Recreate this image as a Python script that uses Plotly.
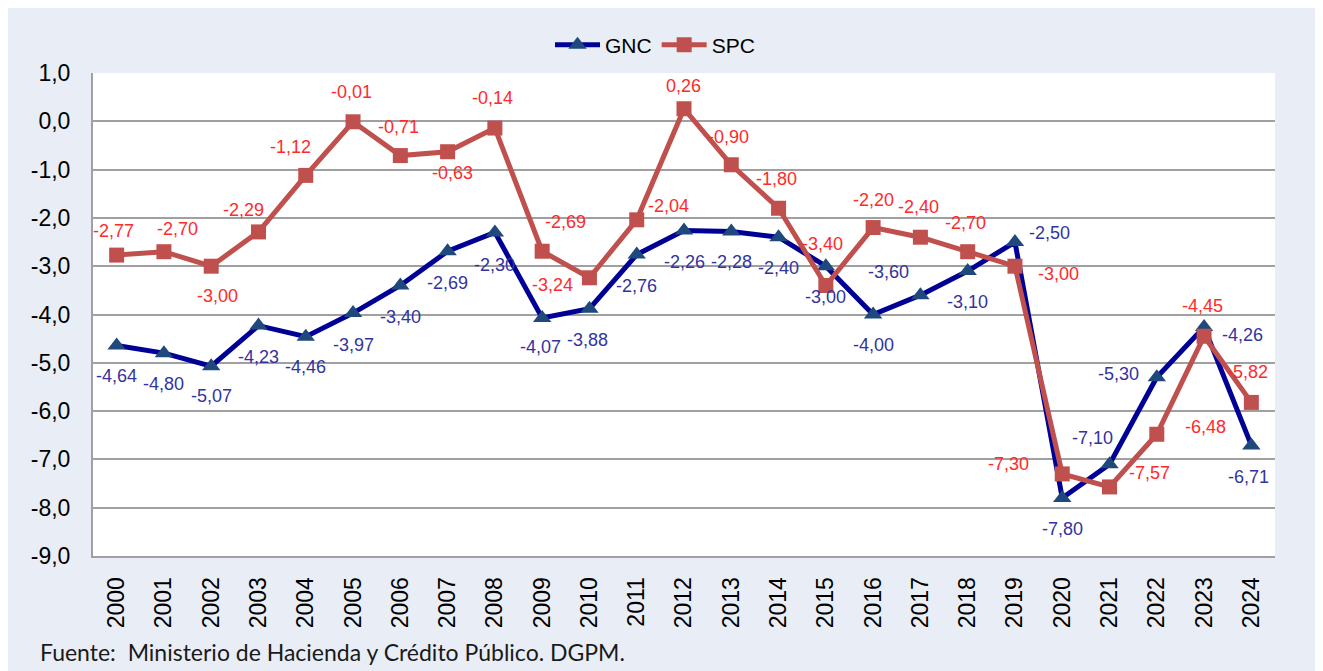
import plotly.graph_objects as go

years = [str(y) for y in range(2000, 2025)]
gnc = [-4.64, -4.80, -5.07, -4.23, -4.46, -3.97, -3.40, -2.69, -2.30, -4.07, -3.88, -2.76,
       -2.26, -2.28, -2.40, -3.00, -4.00, -3.60, -3.10, -2.50, -7.80, -7.10, -5.30, -4.26, -6.71]
spc = [-2.77, -2.70, -3.00, -2.29, -1.12, -0.01, -0.71, -0.63, -0.14, -2.69, -3.24, -2.04,
       0.26, -0.90, -1.80, -3.40, -2.20, -2.40, -2.70, -3.00, -7.30, -7.57, -6.48, -4.45, -5.82]
y_ticks = [1, 0, -1, -2, -3, -4, -5, -6, -7, -8, -9]
y_tick_labels = ["1,0", "0,0", "-1,0", "-2,0", "-3,0", "-4,0", "-5,0", "-6,0", "-7,0", "-8,0", "-9,0"]

# label offsets in pixels (dx, dy with dy positive = downward)
gnc_off = [(0, 31), (0, 31), (0, 30), (0, 31), (0, 30), (0, 32), (0, 31), (0, 32), (0, 33),
           (-2, 29), (-2, 31), (0, 31), (0, 32), (0, 31), (0, 31), (0, 31), (0, 30), (-32, -23),
           (0, 31), (35, -9), (0, 31), (-17, -26), (-38, -3), (38, 8), (-3, 32)]
spc_off = [(-3, -24), (14, -23), (6, 30), (-15, -22), (-15, -28), (-2, -30), (-2, -29), (5, 21),
           (-2, -30), (23, -29), (-37, 7), (32, -14), (-1, -23), (-3, -28), (-2, -29), (-3, -42),
           (0, -28), (-2, -30), (-2, -29), (44, 8), (-54, -10), (40, -14), (49, -7), (-2, -30),
           (-4, -30)]

GNC_LINE = "#000096"
GNC_MARK = "#1F497D"
GNC_TEXT = "#3333A0"
SPC_LINE = "#C0504D"
SPC_TEXT = "#FF2A2A"
BG = "#E9EEF6"

fig = go.Figure()
fig.add_trace(go.Scatter(
    x=years, y=gnc, name="GNC", mode="lines+markers",
    line=dict(color=GNC_LINE, width=5),
    marker=dict(symbol="triangle-up", size=16, color=GNC_MARK),
))
fig.add_trace(go.Scatter(
    x=years, y=spc, name="SPC", mode="lines+markers",
    line=dict(color=SPC_LINE, width=5),
    marker=dict(symbol="square", size=15, color=SPC_LINE),
))

def fmt(v):
    return f"{v:.2f}".replace(".", ",")

annotations = []
for i, (v, (dx, dy)) in enumerate(zip(gnc, gnc_off)):
    annotations.append(dict(x=i, y=v, xref="x", yref="y", text=fmt(v), showarrow=False,
                            xshift=dx, yshift=-dy,
                            font=dict(family="Liberation Sans, Arial", size=18, color=GNC_TEXT)))
for i, (v, (dx, dy)) in enumerate(zip(spc, spc_off)):
    annotations.append(dict(x=i, y=v, xref="x", yref="y", text=fmt(v), showarrow=False,
                            xshift=dx, yshift=-dy,
                            font=dict(family="Liberation Sans, Arial", size=18, color=SPC_TEXT)))

OFF = 8  # page body margin
W, H = 1323 - OFF, 671 - OFF
ml, mt = 93 - OFF, 73 - OFF
mr = W - (1275 - OFF)
mb = H - (556 - OFF)
pw, ph = W - ml - mr, H - mt - mb

def px(x):
    return (x - OFF - ml) / pw

def py(y):
    return 1 - (y - OFF - mt) / ph

annotations.append(dict(x=px(38), y=py(652), xref="paper", yref="paper", xanchor="left",
                        yanchor="middle", showarrow=False,
                        text="Fuente:  Ministerio de Hacienda y Crédito Público. DGPM.",
                        font=dict(family="Lato, Open Sans", size=23, color="#1a1a1a")))

shapes = [dict(type="rect", xref="paper", yref="paper", x0=px(5), x1=px(1321), y0=py(690), y1=py(6),
               line=dict(color="#8C8C8C", width=2), fillcolor="rgba(0,0,0,0)", layer="below")]

fig.update_layout(
    width=W, height=H,
    margin=dict(l=ml, r=mr, t=mt, b=mb),
    paper_bgcolor=BG, plot_bgcolor="white",
    font=dict(family="Liberation Sans, Arial", color="black"),
    showlegend=True,
    legend=dict(orientation="h", x=px(655), y=py(45), xanchor="center", yanchor="middle",
                font=dict(size=21, color="black"), bgcolor="rgba(0,0,0,0)", itemwidth=45,
                traceorder="normal"),
    xaxis=dict(type="category", range=[-0.5, 24.5], tickangle=-90, showgrid=False,
               tickfont=dict(size=23, color="black"), ticks="", showline=True,
               linecolor="#A0A0A0", linewidth=2, ticklabelstandoff=10, fixedrange=True),
    yaxis=dict(range=[-9, 1], tickvals=y_ticks, ticktext=y_tick_labels,
               tickfont=dict(size=23, color="black"), gridcolor="#A0A0A0", gridwidth=2,
               showline=True, linecolor="#A0A0A0", linewidth=2, zeroline=False,
               ticks="", ticklabelstandoff=16, fixedrange=True, mirror=False),
    annotations=annotations,
    shapes=shapes,
)

fig.write_html("out.html")
